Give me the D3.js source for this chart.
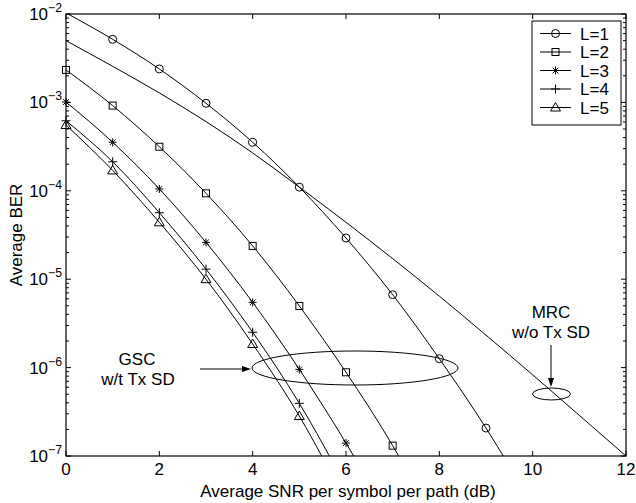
<!DOCTYPE html>
<html>
<head>
<meta charset="utf-8">
<script src="https://cdn.jsdelivr.net/npm/d3@7"></script>
<style>
  html, body { margin: 0; padding: 0; background: #fff; }
  svg { display: block; font-family: "Liberation Sans", Arial, Helvetica, sans-serif; }
</style>
</head>
<body>
<svg id="chart" width="636" height="503"></svg>
<script>
// Average SNR per symbol per path (dB) sample points
const snrGsc = [0, 1, 2, 3, 4, 5, 6, 7, 8, 9, 10];
const snrMrc = [0, 1, 2, 3, 4, 5, 6, 7, 8, 9, 10, 11, 12];

// GSC with transmit selection diversity, L = 1..5
const berL1 = [1.03e-2, 5.17e-3, 2.39e-3, 9.77e-4, 3.54e-4, 1.10e-4, 2.92e-5, 6.68e-6, 1.26e-6, 2.07e-7, 2.75e-8];
const berL2 = [2.33e-3, 9.2e-4, 3.15e-4, 9.37e-5, 2.38e-5, 4.98e-6, 8.85e-7, 1.31e-7, 1.4e-8];
const berL3 = [1.01e-3, 3.54e-4, 1.05e-4, 2.61e-5, 5.47e-6, 9.55e-7, 1.40e-7, 1.7e-8];
const berL4 = [6.2e-4, 2.13e-4, 5.65e-5, 1.30e-5, 2.51e-6, 3.94e-7, 4.5e-8];
const berL5 = [5.55e-4, 1.70e-4, 4.4e-5, 1.0e-5, 1.85e-6, 2.83e-7, 3.0e-8];

// MRC without transmit diversity
const berMrc = [4.99e-3, 2.56e-3, 1.28e-3, 6.07e-4, 2.68e-4, 1.10e-4, 4.40e-5, 1.71e-5, 6.43e-6, 2.33e-6, 8.28e-7, 2.88e-7, 1.0e-7];

const seriesNames = ["L=1", "L=2", "L=3", "L=4", "L=5"];
const seriesMarkers = ["circle", "square", "star", "plus", "triangle"];
const xTicks = [0, 2, 4, 6, 8, 10, 12];
const yDecades = [-2, -3, -4, -5, -6, -7];

const svg = d3.select("#chart");
const padL = 66, padR = 626, padT = 14, padB = 456;
const FS = 17;

const x = d3.scaleLinear().domain([0, 12]).range([padL, padR]);
const y = d3.scaleLog().domain([1e-7, 1e-2]).range([padB, padT]);

svg.append("defs").append("clipPath").attr("id", "plotClip")
  .append("rect").attr("x", padL).attr("y", padT)
  .attr("width", padR - padL).attr("height", padB - padT);

const line = d3.line()
  .x(d => x(d[0])).y(d => y(d[1]))
  .curve(d3.curveMonotoneX);

const plot = svg.append("g");
const series = [berL1, berL2, berL3, berL4, berL5].map((ber, i) => ({
  name: seriesNames[i], marker: seriesMarkers[i],
  points: ber.map((v, j) => [snrGsc[j], v])
}));

// curves
plot.append("path")
  .attr("clip-path", "url(#plotClip)")
  .attr("d", line(berMrc.map((v, j) => [snrMrc[j], v])))
  .attr("fill", "none").attr("stroke", "#000").attr("stroke-width", 1);

series.forEach(s => {
  plot.append("path")
    .attr("clip-path", "url(#plotClip)")
    .attr("d", line(s.points))
    .attr("fill", "none").attr("stroke", "#000").attr("stroke-width", 1);
});

function drawMarker(g, type, cx, cy) {
  let el;
  if (type === "circle") {
    el = g.append("circle").attr("cx", cx).attr("cy", cy).attr("r", 4);
  } else if (type === "square") {
    el = g.append("rect").attr("x", cx - 3.5).attr("y", cy - 3.5).attr("width", 7).attr("height", 7);
  } else if (type === "star") {
    const r = 4, d = r * 0.72;
    el = g.append("path").attr("d",
      `M${cx - r},${cy}H${cx + r}M${cx},${cy - r}V${cy + r}` +
      `M${cx - d},${cy - d}L${cx + d},${cy + d}M${cx - d},${cy + d}L${cx + d},${cy - d}`);
  } else if (type === "plus") {
    const r = 4.5;
    el = g.append("path").attr("d", `M${cx - r},${cy}H${cx + r}M${cx},${cy - r}V${cy + r}`);
  } else {
    el = g.append("path").attr("d", `M${cx},${cy - 5}L${cx + 5},${cy + 3.5}L${cx - 5},${cy + 3.5}Z`);
  }
  el.attr("fill", "none").attr("stroke", "#000").attr("stroke-width", 1);
}

series.forEach(s => {
  const g = plot.append("g");
  s.points.filter(p => p[1] >= 1e-7 && p[1] <= 1e-2)
    .forEach(p => drawMarker(g, s.marker, x(p[0]), y(p[1])));
});

// axes box and ticks
const axes = svg.append("g").attr("stroke", "#000");
axes.append("rect").attr("x", padL).attr("y", padT)
  .attr("width", padR - padL).attr("height", padB - padT)
  .attr("fill", "none").attr("stroke-width", 1.2);

xTicks.forEach(t => {
  axes.append("line").attr("x1", x(t)).attr("x2", x(t)).attr("y1", padB).attr("y2", padB - 5);
  axes.append("line").attr("x1", x(t)).attr("x2", x(t)).attr("y1", padT).attr("y2", padT + 5);
});

for (let e = -7; e <= -3; e++) {
  for (let m = 1; m <= 9; m++) {
    const v = m * Math.pow(10, e);
    const len = m === 1 ? 5 : 3;
    axes.append("line").attr("x1", padL).attr("x2", padL + len).attr("y1", y(v)).attr("y2", y(v));
    axes.append("line").attr("x1", padR).attr("x2", padR - len).attr("y1", y(v)).attr("y2", y(v));
  }
}
axes.append("line").attr("x1", padL).attr("x2", padL + 5).attr("y1", y(1e-2)).attr("y2", y(1e-2));
axes.append("line").attr("x1", padR).attr("x2", padR - 5).attr("y1", y(1e-2)).attr("y2", y(1e-2));
axes.selectAll("line").attr("stroke-width", 1);

// tick labels
const txt = svg.append("g").attr("fill", "#000").attr("font-size", FS);
xTicks.forEach(t => {
  txt.append("text").attr("x", x(t)).attr("y", padB + 19)
    .attr("text-anchor", "middle").text(t);
});
yDecades.forEach(e => {
  const t = txt.append("text").attr("x", padL - 4).attr("y", y(Math.pow(10, e)) + 6)
    .attr("text-anchor", "end");
  t.append("tspan").text("10");
  t.append("tspan").attr("dy", -8).attr("font-size", FS * 0.72).text("\u2212" + (-e));
});

// axis titles
txt.append("text").attr("x", (padL + padR) / 2 + 2).attr("y", 497)
  .attr("text-anchor", "middle").text("Average SNR per symbol per path (dB)");
txt.append("text").attr("transform", `translate(22,${(padT + padB) / 2}) rotate(-90)`)
  .attr("text-anchor", "middle").text("Average BER");

// legend
const lg = svg.append("g");
lg.append("rect").attr("x", 532).attr("y", 21).attr("width", 89).attr("height", 104)
  .attr("fill", "#fff").attr("stroke", "#000").attr("stroke-width", 1);
series.forEach((s, i) => {
  const cy = 33.5 + i * 18.5;
  lg.append("line").attr("x1", 540).attr("x2", 571).attr("y1", cy).attr("y2", cy)
    .attr("stroke", "#000").attr("stroke-width", 1);
  drawMarker(lg, s.marker, 555.5, cy);
  lg.append("text").attr("x", 580).attr("y", cy + 6).attr("font-size", FS).text(s.name);
});

// annotations
const ann = svg.append("g");
ann.append("ellipse").attr("cx", 355).attr("cy", 368).attr("rx", 103).attr("ry", 17)
  .attr("fill", "none").attr("stroke", "#000").attr("stroke-width", 1);
ann.append("ellipse").attr("cx", 551.5).attr("cy", 394).attr("rx", 19).attr("ry", 6)
  .attr("fill", "none").attr("stroke", "#000").attr("stroke-width", 1);

ann.append("line").attr("x1", 200).attr("x2", 243).attr("y1", 369).attr("y2", 369)
  .attr("stroke", "#000").attr("stroke-width", 1);
ann.append("path").attr("d", "M251,369L242,366L242,372Z").attr("fill", "#000");
ann.append("line").attr("x1", 551).attr("x2", 551).attr("y1", 345).attr("y2", 379)
  .attr("stroke", "#000").attr("stroke-width", 1);
ann.append("path").attr("d", "M551,387L548,378L554,378Z").attr("fill", "#000");

const at = ann.append("g").attr("font-size", FS).attr("text-anchor", "middle");
at.append("text").attr("x", 137).attr("y", 365).text("GSC");
at.append("text").attr("x", 138).attr("y", 385).text("w/t Tx SD");
at.append("text").attr("x", 551).attr("y", 318).text("MRC");
at.append("text").attr("x", 551).attr("y", 338).text("w/o Tx SD");
</script>
</body>
</html>
